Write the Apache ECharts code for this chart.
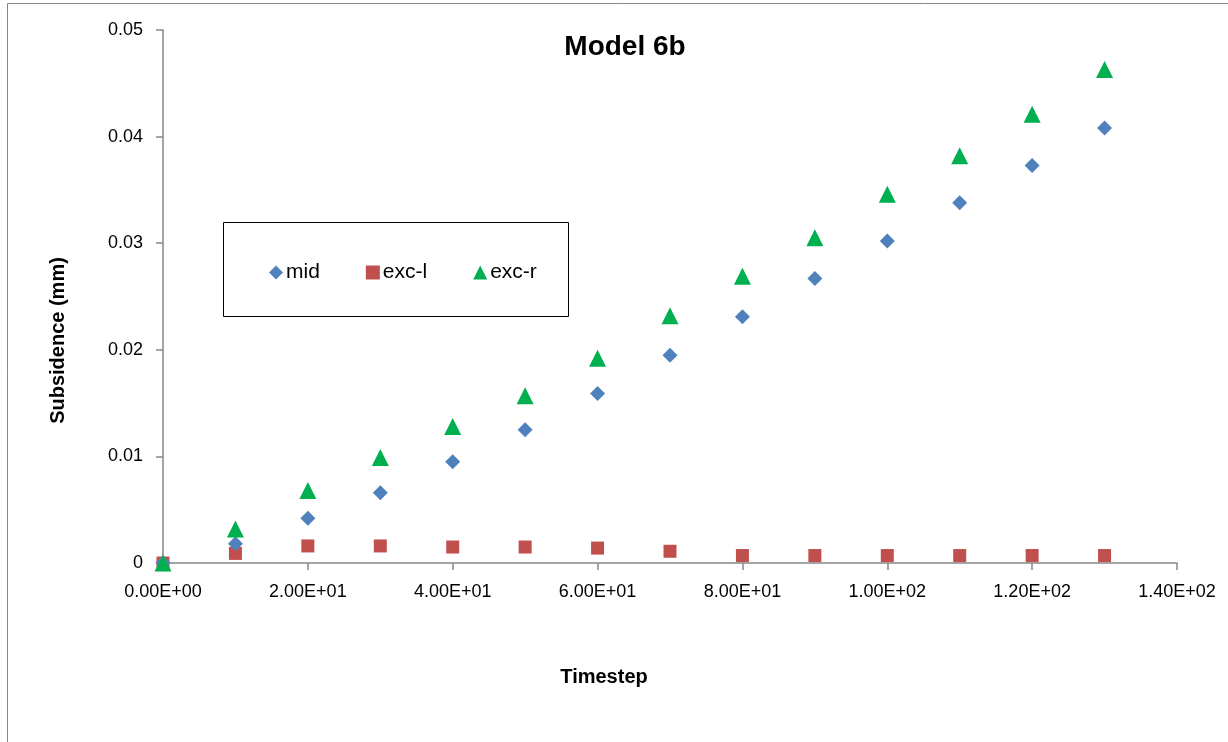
<!DOCTYPE html>
<html><head><meta charset="utf-8">
<script src="https://cdn.jsdelivr.net/npm/echarts@6/dist/echarts.min.js"></script>
<style>html,body{margin:0;padding:0;background:#fff}#c{width:1228px;height:742px}</style>
</head><body><div id="c"></div>
<script>
const timesteps = [0,10,20,30,40,50,60,70,80,90,100,110,120,130];
const midVals  = [0,0.0018,0.0042,0.0066,0.0095,0.0125,0.0159,0.0195,0.0231,0.0267,0.0302,0.0338,0.0373,0.0408];
const excLVals = [0,0.0009,0.0016,0.0016,0.0015,0.0015,0.0014,0.0011,0.0007,0.0007,0.0007,0.0007,0.0007,0.0007];
const excRVals = [0,0.0032,0.0068,0.0099,0.0128,0.0157,0.0192,0.0232,0.0269,0.0305,0.0346,0.0382,0.0421,0.0463];
const seriesNames = ['mid','exc-l','exc-r'];
const FONT = '"Liberation Sans",sans-serif';
function pairs(ys){return timesteps.map((x,i)=>[x,ys[i]]);}
function sci(v){
  if(v===0) return '0.00E+00';
  const e=Math.floor(Math.log10(Math.abs(v)));
  const m=v/Math.pow(10,e);
  return m.toFixed(2)+'E'+(e<0?'-':'+')+String(Math.abs(e)).padStart(2,'0');
}
const chart = echarts.init(document.getElementById('c'));
chart.setOption({
  animation:false,
  backgroundColor:'#fff',
  title:{text:'Model 6b',left:620,top:28,textAlign:'center',textStyle:{fontFamily:FONT,fontSize:28,fontWeight:'bold',color:'#000'}},
  graphic:[
    {type:'rect',shape:{x:7.5,y:3.5,width:1240,height:760},style:{fill:'none',stroke:'#868686',lineWidth:1},silent:true,z:-1},
    {type:'rect',shape:{x:223.5,y:222.5,width:345,height:94},style:{fill:'#fff',stroke:'#000',lineWidth:1},silent:true,z:5}
  ],
  legend:{data:[{name:'mid',icon:'diamond'},{name:'exc-l',icon:'rect'},{name:'exc-r',icon:'triangle'}],
    left:264,top:257,itemWidth:14,itemHeight:14,itemGap:46,z:10,
    textStyle:{fontFamily:FONT,fontSize:21,color:'#000',padding:[0,0,0,-2]}},
  grid:{left:163,right:51,top:30,bottom:179},
  xAxis:{type:'value',min:0,max:140,interval:20,
    name:'Timestep',nameLocation:'middle',nameGap:104,
    nameTextStyle:{fontFamily:FONT,fontSize:20,fontWeight:'bold',color:'#000',padding:[0,132,0,0]},
    axisLine:{lineStyle:{color:'#868686',width:1.5}},
    axisTick:{show:true,inside:false,length:7,lineStyle:{color:'#868686',width:1.5}},
    splitLine:{show:false},
    axisLabel:{fontFamily:FONT,fontSize:18,color:'#000',margin:20,formatter:v=>sci(v)}},
  yAxis:{type:'value',min:0,max:0.05,interval:0.01,
    name:'Subsidence (mm)',nameLocation:'middle',nameGap:95,nameRotate:90,
    nameTextStyle:{fontFamily:FONT,fontSize:20,fontWeight:'bold',color:'#000',padding:[0,88,0,0]},
    axisLine:{show:true,lineStyle:{color:'#868686',width:1.5}},
    axisTick:{show:true,inside:false,length:7,lineStyle:{color:'#868686',width:1.5}},
    splitLine:{show:false},
    axisLabel:{fontFamily:FONT,fontSize:18,color:'#000',margin:20,formatter:v=>v===0?'0':String(+v.toFixed(2))}},
  series:[
    {name:'mid',type:'scatter',symbol:'diamond',symbolSize:15,itemStyle:{color:'#4F81BD',opacity:1},data:pairs(midVals),z:3},
    {name:'exc-l',type:'scatter',symbol:'rect',symbolSize:13,itemStyle:{color:'#C0504D',opacity:1},data:pairs(excLVals),z:2},
    {name:'exc-r',type:'scatter',symbol:'triangle',symbolSize:17,itemStyle:{color:'#00B050',opacity:1},data:pairs(excRVals),z:4}
  ]
});
</script></body></html>
